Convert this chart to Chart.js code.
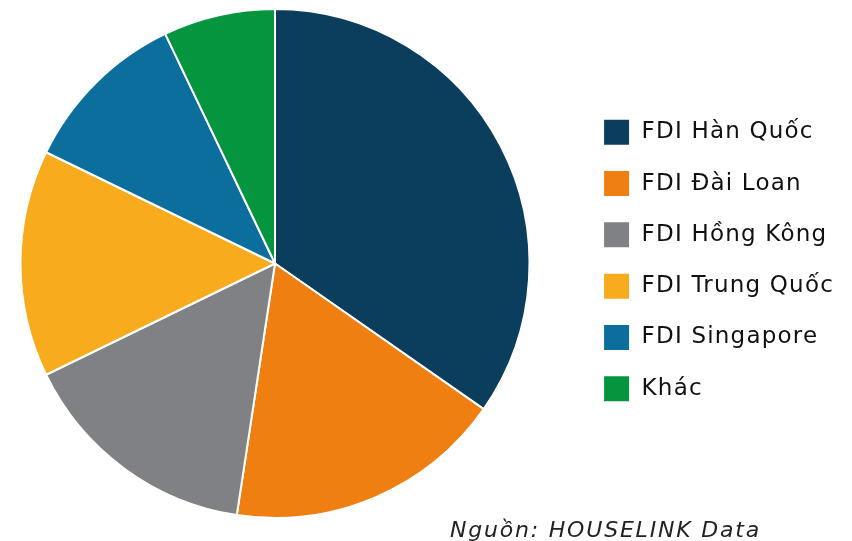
<!DOCTYPE html>
<html>
<head>
<meta charset="utf-8">
<script src="https://cdn.jsdelivr.net/npm/chart.js@4.4.0/dist/chart.umd.min.js"></script>
<style>
  html, body { margin: 0; padding: 0; background: #fff; }
  #wrap { width: 852px; height: 541px; }
</style>
</head>
<body>
<div id="wrap"><canvas id="pieChart" width="852" height="541"></canvas></div>
<script>
// dữ liệu (% ước tính)
const labels = ["FDI Hàn Quốc", "FDI Đài Loan", "FDI Hồng Kông", "FDI Trung Quốc", "FDI Singapore", "Khác"];
const values = [34.7, 17.7, 15.4, 14.4, 10.7, 7.1];
const colors = ["#0A3E5C", "#EF7F11", "#808184", "#F8AB1C", "#0C6E9D", "#05953F"];
const sourceText = "Nguồn: HOUSELINK Data";

const FONT = "'DejaVu Sans', 'Noto Sans', sans-serif";

// chữ rộng hơn một chút (font gốc kiểu Montserrat)
const spacingPlugin = {
    id: 'spacingPlugin',
    beforeUpdate(chart) { chart.ctx.letterSpacing = '1.2px'; },
    beforeLayout(chart) { chart.ctx.letterSpacing = '1.2px'; },
    beforeDraw(chart) { chart.ctx.letterSpacing = '1.2px'; }
};

// đặt lại vùng vẽ cho hình tròn, legend giữ nguyên chỗ
const areaPlugin = {
    id: 'areaPlugin',
    afterLayout(chart) {
        const a = chart.chartArea;
        a.left = 0; a.right = 550;
        a.top = 8; a.bottom = 519;
        a.width = a.right - a.left;
        a.height = a.bottom - a.top;
    }
};

// ghi nguồn ở góc dưới
const sourcePlugin = {
    id: 'sourcePlugin',
    afterDraw(chart, args, options) {
        const { ctx } = chart;
        ctx.save();
        ctx.letterSpacing = options.spacing || '0px';
        ctx.font = `italic ${options.fontSize || 21}px ${FONT}`;
        ctx.fillStyle = options.color || '#222';
        ctx.textAlign = 'left';
        ctx.textBaseline = 'alphabetic';
        ctx.fillText(options.text, options.x, options.y);
        ctx.restore();
    }
};

new Chart(document.getElementById("pieChart"), {
    type: "pie",
    data: {
        labels: labels,
        datasets: [{
            data: values,
            backgroundColor: colors,
            borderColor: "#ffffff",
            borderWidth: 2
        }]
    },
    options: {
        responsive: false,
        animation: false,
        layout: { padding: { top: 5, bottom: 25, left: 0, right: 8 } },
        plugins: {
            tooltip: { enabled: false },
            legend: {
                position: "right",
                labels: {
                    boxWidth: 27,
                    boxHeight: 27,
                    padding: 24.3,
                    color: "#111",
                    font: { family: FONT, size: 23 }
                }
            },
            sourcePlugin: {
                text: sourceText,
                x: 450,
                y: 537,
                fontSize: 22,
                spacing: '1.8px',
                color: "#222"
            }
        }
    },
    plugins: [spacingPlugin, areaPlugin, sourcePlugin]
});
</script>
</body>
</html>
